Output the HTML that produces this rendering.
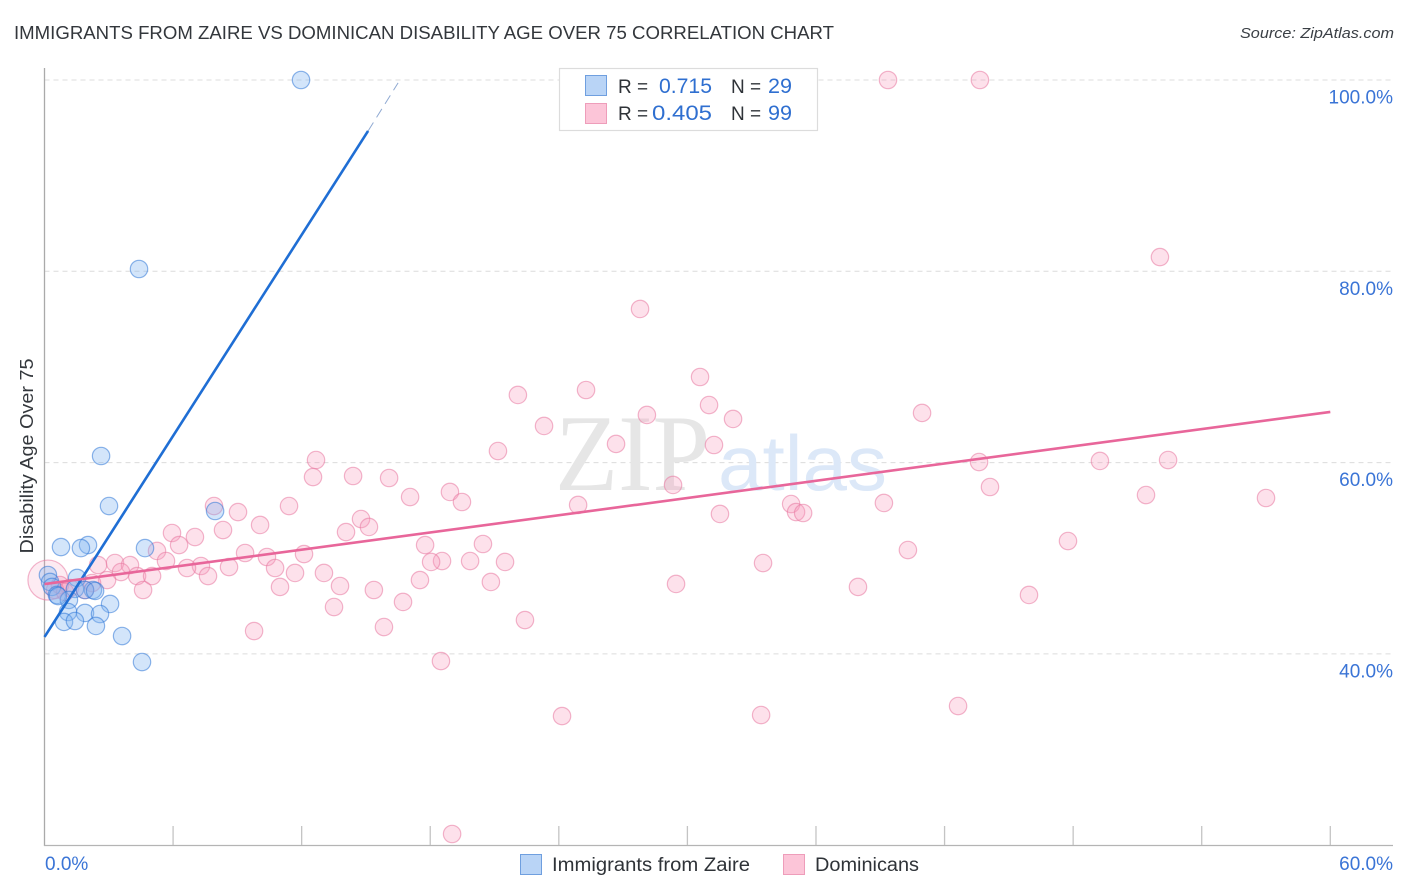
<!DOCTYPE html>
<html lang="en">
<head>
<meta charset="utf-8">
<title>Immigrants from Zaire vs Dominican Disability Age Over 75 Correlation Chart</title>
<style>
html,body{margin:0;padding:0;background:#fff;}
body{width:1406px;height:892px;overflow:hidden;}
svg{display:block;font-family:"Liberation Sans",sans-serif;}
</style>
</head>
<body>
<svg id="chart" width="1406" height="892" viewBox="0 0 1406 892" xmlns="http://www.w3.org/2000/svg">
  <rect x="0" y="0" width="1406" height="892" fill="#ffffff"/>
  <text x="14" y="39" font-size="18.5" fill="#33373c" textLength="820" lengthAdjust="spacingAndGlyphs">IMMIGRANTS FROM ZAIRE VS DOMINICAN DISABILITY AGE OVER 75 CORRELATION CHART</text>
  <text x="1394" y="38" font-size="15" font-style="italic" fill="#3a3f45" text-anchor="end" textLength="154" lengthAdjust="spacingAndGlyphs">Source: ZipAtlas.com</text>

  <g id="grid"></g>

  <text x="555" y="490" font-family="'Liberation Serif',serif" font-size="109" fill="#e6e6e6" textLength="155" lengthAdjust="spacingAndGlyphs">ZIP</text>
  <text x="718" y="490" font-size="78" fill="#dce8f8" textLength="169" lengthAdjust="spacingAndGlyphs">atlas</text>

  <g id="axes"></g>
  <g id="points"></g>
  <g id="trends"></g>
  <g id="labels"></g>

  <text transform="translate(33,456) rotate(-90)" font-size="18" fill="#33373c" text-anchor="middle" textLength="195" lengthAdjust="spacingAndGlyphs">Disability Age Over 75</text>

  <g>
    <rect x="559.5" y="68.5" width="258" height="62" fill="#ffffff" stroke="#dcdcdc" stroke-width="1.2"/>
    <rect x="585.5" y="75.5" width="21" height="20" fill="#b9d4f6" stroke="#6f9fdf" stroke-width="1"/>
    <rect x="585.5" y="103.5" width="21" height="20" fill="#fcc5d8" stroke="#ee9dba" stroke-width="1"/>
    <text x="618" y="93" font-size="19" fill="#2f3338">R =</text>
    <text x="659" y="93" font-size="21" fill="#2f6fd0" textLength="53" lengthAdjust="spacingAndGlyphs">0.715</text>
    <text x="731" y="93" font-size="19" fill="#2f3338">N =</text>
    <text x="768" y="93" font-size="21" fill="#2f6fd0" textLength="24" lengthAdjust="spacingAndGlyphs">29</text>
    <text x="618" y="120" font-size="19" fill="#2f3338">R =</text>
    <text x="652" y="120" font-size="21" fill="#2f6fd0" textLength="60" lengthAdjust="spacingAndGlyphs">0.405</text>
    <text x="731" y="120" font-size="19" fill="#2f3338">N =</text>
    <text x="768" y="120" font-size="21" fill="#2f6fd0" textLength="24" lengthAdjust="spacingAndGlyphs">99</text>
  </g>

  <g>
    <rect x="520.5" y="854.5" width="21" height="20" fill="#b9d4f6" stroke="#6f9fdf" stroke-width="1"/>
    <text x="552" y="871" font-size="19" fill="#2f3338" textLength="198" lengthAdjust="spacingAndGlyphs">Immigrants from Zaire</text>
    <rect x="783.5" y="854.5" width="21" height="20" fill="#fcc5d8" stroke="#ee9dba" stroke-width="1"/>
    <text x="815" y="871" font-size="19" fill="#2f3338" textLength="104" lengthAdjust="spacingAndGlyphs">Dominicans</text>
  </g>
</svg>
<script>
const xTickValues = [0, 6, 12, 18, 24, 30, 36, 42, 48, 54, 60];
const yTickValues = [100, 80, 60, 40];
const yTickLabels = ['100.0%', '80.0%', '60.0%', '40.0%'];
const xEndLabels = ['0.0%', '60.0%'];

const zaireX = [11.97,4.41,2.64,3.01,7.96,0.77,2.03,1.70,4.69,0.16,0.26,0.35,0.58,1.52,1.42,2.26,1.89,2.36,1.14,3.06,1.10,1.89,2.59,0.91,1.42,2.40,3.62,4.55,0.63];
const zaireY = [100,80.24,60.69,55.46,54.94,51.17,51.38,51.06,51.06,48.25,47.52,47.0,46.16,47.94,46.79,46.68,46.68,46.58,45.64,45.22,44.38,44.28,44.17,43.34,43.44,42.92,41.87,39.15,46.05];

const dominicanX = [0.16,39.36,43.65,52.05,27.79,30.59,25.27,22.09,31.01,28.11,32.13,40.95,23.31,26.67,31.24,21.16,12.67,43.61,49.25,52.43,12.53,14.40,16.08,29.33,44.12,18.92,17.06,19.48,7.91,11.41,9.03,51.40,57.0,39.17,34.84,24.9,35.07,35.4,31.52,14.77,10.06,15.14,8.33,14.07,5.95,7.02,6.28,17.76,20.46,47.76,40.29,5.25,9.36,12.11,10.38,18.55,21.49,19.86,18.04,5.67,3.29,3.99,7.3,8.61,33.53,2.5,10.76,6.65,3.57,4.32,5.02,11.69,13.04,7.63,2.92,20.83,17.52,29.47,13.79,10.99,15.37,37.96,4.6,45.94,16.73,13.51,22.42,15.84,9.78,18.5,42.63,24.15,33.44,19.02,0.72,1.19,1.89,2.22,0.49,0.96];
const dominicanY = [47.72,100,100,81.49,76.06,68.95,67.59,67.07,66.02,64.98,64.56,65.19,63.83,61.95,61.84,61.21,60.27,60.06,60.17,60.27,58.49,58.6,58.39,57.66,57.45,56.93,56.4,55.88,55.46,55.46,54.83,56.61,56.3,55.78,55.67,55.57,54.83,54.73,54.63,54.1,53.48,53.27,52.95,52.74,52.64,52.22,51.38,51.38,51.49,51.8,50.86,50.76,50.55,50.44,50.13,49.71,49.61,49.71,49.61,49.71,49.5,49.29,49.19,49.08,49.5,49.29,48.98,48.98,48.56,48.14,48.14,48.46,48.46,48.14,47.72,47.52,47.72,47.31,47.1,47.0,46.68,47.0,46.68,46.16,45.43,44.9,43.54,42.81,42.39,39.25,34.55,33.5,33.61,21.17,47.2,46.89,46.68,47.41,46.68,46.47];

const zaireTrendX = [0, 15.1, 16.5];
const zaireTrendY = [41.77, 94.67, 99.7];
const dominicanTrendX = [0, 60];
const dominicanTrendY = [47.3, 65.3];

const NS = 'http://www.w3.org/2000/svg';
function sx(v) { return 44.5 + v * 21.43; }
function sy(v) { return 80 + (100 - v) * 9.565; }
function make(tag, attrs, parent) {
  const el = document.createElementNS(NS, tag);
  for (const k in attrs) el.setAttribute(k, attrs[k]);
  parent.appendChild(el);
  return el;
}

const grid = document.getElementById('grid');
yTickValues.forEach(function (v) {
  const el = make('line', {x1: 44.5, x2: 1393, y1: sy(v), y2: sy(v), stroke: '#dcdcdc', 'stroke-width': 1, 'stroke-dasharray': '5 4'}, grid);
  
  
});

const axes = document.getElementById('axes');
const yAxis = make('line', {x1: 44.5, x2: 44.5, y1: 68, y2: 846, stroke: '#aaaaaa', 'stroke-width': 1.3}, axes);


const xAxis = make('line', {x1: 44, x2: 1393, y1: 845.5, y2: 845.5, stroke: '#b4b4b4', 'stroke-width': 1.3}, axes);


xTickValues.slice(1).forEach(function (v) {
  const el = make('line', {x1: sx(v), x2: sx(v), y1: 826, y2: 845, stroke: '#c4c4c4', 'stroke-width': 1.3}, axes);
  
  
});

const points = document.getElementById('points');
dominicanX.forEach(function (x, i) {
  const big = i === 0;
  const el = make('circle', {cx: sx(x), cy: sy(dominicanY[i]), r: big ? 20 : 8.7, fill: 'rgba(247,155,188,' + (big ? 0.2 : 0.3) + ')', stroke: 'rgba(232,120,160,0.55)', 'stroke-width': 1.2}, points);
  
  
});
zaireX.forEach(function (x, i) {
  const el = make('circle', {cx: sx(x), cy: sy(zaireY[i]), r: 8.7, fill: 'rgba(130,180,240,0.35)', stroke: 'rgba(50,120,215,0.55)', 'stroke-width': 1.2}, points);
  
  
});

const trends = document.getElementById('trends');
const zaireSolid = make('line', {x1: sx(zaireTrendX[0]), y1: sy(zaireTrendY[0]), x2: sx(zaireTrendX[1]), y2: sy(zaireTrendY[1]), stroke: '#1f6ed4', 'stroke-width': 2.6}, trends);


const zaireDash = make('line', {x1: sx(zaireTrendX[1]), y1: sy(zaireTrendY[1]), x2: sx(zaireTrendX[2]), y2: sy(zaireTrendY[2]), stroke: '#8fa9d2', 'stroke-width': 1, 'stroke-dasharray': '10 6'}, trends);


const domTrend = make('line', {x1: sx(dominicanTrendX[0]), y1: sy(dominicanTrendY[0]), x2: sx(dominicanTrendX[1]), y2: sy(dominicanTrendY[1]), stroke: '#e8669a', 'stroke-width': 2.6}, trends);



const labels = document.getElementById('labels');
yTickValues.forEach(function (v, i) {
  const el = make('text', {x: 1393, y: sy(v) + 23.5, 'font-size': 19, fill: '#3a74d6', 'text-anchor': 'end'}, labels);
  
  
  el.textContent = yTickLabels[i];
});
const x0Label = make('text', {x: 45, y: 870, 'font-size': 19, fill: '#3a74d6'}, labels);


x0Label.textContent = xEndLabels[0];
const x1Label = make('text', {x: 1393, y: 870, 'font-size': 19, fill: '#3a74d6', 'text-anchor': 'end'}, labels);


x1Label.textContent = xEndLabels[1];
</script>
</body>
</html>
